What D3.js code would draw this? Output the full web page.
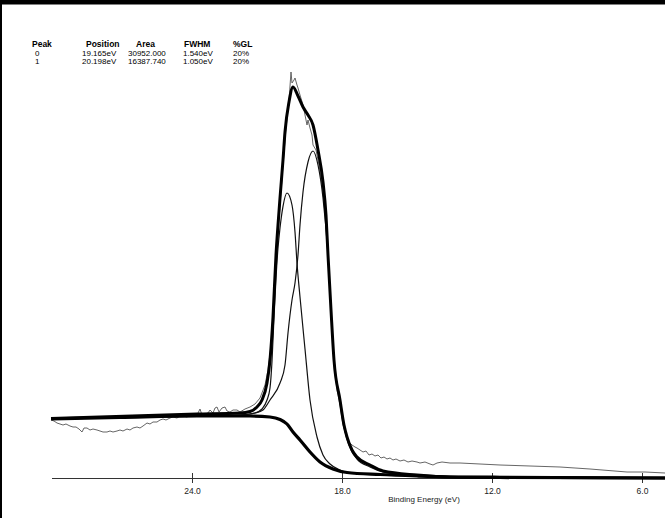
<!DOCTYPE html>
<html>
<head>
<meta charset="utf-8">
<script src="https://cdn.jsdelivr.net/npm/d3@7"></script>
<style>
  body { margin: 0; background: #fff; }
  svg { display: block; font-family: 'Liberation Sans', Arial, sans-serif; }
  .hdr { font-weight: bold; font-size: 8.5px; }
  .cell { font-size: 8px; }
  .axis text { font-size: 8.5px; fill: #222; }
</style>
</head>
<body>
<svg id="chart" width="665" height="518"></svg>
<script>
// Fit table
const peakIds = ['0', '1'];
const peakPositions = ['19.165eV', '20.198eV'];
const peakAreas = ['30952.000', '16387.740'];
const peakFwhms = ['1.540eV', '1.050eV'];
const peakGls = ['20%', '20%'];

const xTicks = [24, 18, 12, 6];

// Measured spectrum [binding energy eV, counts]
const raw = [
  [29.64, 3480], [29.52, 3420], [29.40, 3300], [29.28, 3240], [29.16, 3180], [29.04, 3240],
  [28.88, 3120], [28.76, 3060], [28.64, 3060], [28.52, 2940], [28.40, 2760], [28.32, 3000],
  [28.20, 3000], [28.08, 2880], [27.96, 2940], [27.80, 2880], [27.68, 2820], [27.56, 2760],
  [27.40, 2760], [27.28, 2820], [27.16, 2760], [27.00, 2820], [26.88, 2880], [26.76, 2820],
  [26.60, 2940], [26.48, 2880], [26.36, 3000], [26.20, 3060], [26.08, 3000], [25.96, 3120],
  [25.80, 3300], [25.68, 3240], [25.56, 3360], [25.40, 3360], [25.28, 3480], [25.16, 3540],
  [25.04, 3480], [24.88, 3600], [24.76, 3660], [24.60, 3600], [24.48, 3720], [24.36, 3720],
  [24.20, 3660], [24.08, 3780], [23.96, 3720], [23.80, 3780], [23.68, 4140], [23.60, 3780],
  [23.48, 3840], [23.36, 3900], [23.28, 4080], [23.16, 3900], [23.08, 4200], [23.00, 4260],
  [22.92, 3960], [22.80, 4200], [22.68, 4260], [22.60, 4020], [22.48, 3960], [22.36, 4080],
  [22.20, 4080], [22.08, 3960], [21.88, 4140], [21.68, 4260], [21.48, 4440], [21.28, 4800],
  [21.08, 5580], [20.96, 6480], [20.84, 7980], [20.72, 10680], [20.60, 13680], [20.48, 16380],
  [20.36, 18780], [20.24, 21000], [20.12, 22680], [20.04, 24360], [20.00, 23700], [19.92, 23880],
  [19.88, 24000], [19.80, 23580], [19.76, 23400], [19.68, 22980], [19.56, 22380], [19.48, 21780],
  [19.40, 21180], [19.36, 21480], [19.28, 21000], [19.20, 20580], [19.16, 19980], [19.04, 19680],
  [18.92, 18780], [18.80, 17580], [18.68, 16080], [18.56, 13380], [18.44, 10080], [18.32, 7200],
  [18.20, 5280], [18.08, 4380], [17.96, 3180], [17.84, 2580], [17.72, 2160], [17.60, 1980],
  [17.48, 1860], [17.40, 1800], [17.28, 1680], [17.16, 1560], [17.04, 1620], [16.92, 1380],
  [16.80, 1440], [16.68, 1320], [16.56, 1380], [16.44, 1200], [16.32, 1260], [16.20, 1140],
  [16.08, 1200], [15.96, 1080], [15.84, 1140], [15.68, 1020], [15.52, 1080], [15.36, 960],
  [15.20, 1020], [15.00, 960], [14.88, 900], [14.68, 960], [14.48, 840], [14.36, 780],
  [14.20, 900], [14.00, 960], [13.68, 900], [13.28, 900], [12.48, 840], [11.68, 780],
  [10.48, 720], [9.28, 660], [8.08, 540], [6.60, 360], [5.88, 360], [5.08, 300]
];

// Shirley background
const background = [
  [29.64, 3540], [26.88, 3630], [23.80, 3720], [21.68, 3720], [20.88, 3660], [20.48, 3510],
  [20.20, 3240], [19.96, 2760], [19.68, 2280], [19.28, 1560], [18.88, 960], [18.36, 540],
  [17.80, 330], [16.48, 210], [15.00, 120], [13.68, 60], [11.68, 30], [5.08, 0]
];

// Fit envelope
const envelope = [
  [29.64, 3570], [23.80, 3840], [22.08, 3900], [21.68, 3990], [21.40, 4260], [21.20, 4680],
  [21.00, 5700], [20.88, 7080], [20.76, 9660], [20.64, 13380], [20.56, 15180], [20.48, 16800],
  [20.36, 19080], [20.28, 20760], [20.12, 22560], [19.96, 23460], [19.76, 22920], [19.56, 22260],
  [19.36, 21780], [19.16, 21180], [18.96, 19680], [18.76, 17760], [18.64, 15780], [18.56, 13380],
  [18.44, 10080], [18.32, 7080], [18.08, 4680], [17.92, 3180], [17.80, 2460], [17.60, 1680],
  [17.40, 1260], [16.88, 780], [16.36, 420], [15.00, 180], [13.68, 60], [5.08, 0]
];

// Component peak 0 (19.165 eV)
const peak0 = [
  [29.64, 3540], [23.80, 3720], [22.08, 3780], [21.48, 3900], [21.16, 4080], [20.88, 4680],
  [20.48, 5700], [20.28, 6780], [20.16, 8700], [20.00, 10680], [19.88, 11700], [19.76, 13380],
  [19.68, 15180], [19.56, 17160], [19.36, 18960], [19.16, 19620], [18.96, 18780], [18.76, 16800],
  [18.56, 13380], [18.44, 10080], [18.32, 7080], [18.08, 4560], [17.92, 3060], [17.80, 2340],
  [17.60, 1560], [17.40, 1140], [16.88, 660], [16.36, 360], [15.00, 120], [13.68, 30], [5.08, 0]
];

// Component peak 1 (20.198 eV)
const peak1 = [
  [29.64, 3540], [23.80, 3720], [22.08, 3780], [21.48, 3900], [21.20, 4140], [21.00, 4680],
  [20.88, 5400], [20.80, 7000], [20.72, 9660], [20.64, 12000], [20.56, 13800], [20.48, 15000],
  [20.36, 16300], [20.20, 17100], [20.00, 16380], [19.88, 14760], [19.80, 12900], [19.68, 10860],
  [19.48, 7740], [19.28, 4680], [19.00, 2460], [18.76, 1380], [18.48, 840], [18.08, 480],
  [17.80, 330], [16.48, 210], [15.00, 120], [13.68, 60], [5.08, 0]
];

const svg = d3.select('#chart');
const W = 665, H = 518;

// window frame: heavy top edge, thin left edge
svg.append('rect').attr('x', 0).attr('y', 0).attr('width', W).attr('height', 4.5).attr('fill', '#000');
svg.append('rect').attr('x', 0).attr('y', 0).attr('width', 2).attr('height', H).attr('fill', '#000');

const xScale = d3.scaleLinear().domain([29.64, 5.08]).range([51, 665]);
const yScale = d3.scaleLinear().domain([0, 24000]).range([478, 78]);

// Peak table
const cols = [
  { title: 'Peak', x: 32, vals: peakIds, dx: 3 },
  { title: 'Position', x: 86, vals: peakPositions, dx: -4 },
  { title: 'Area', x: 136, vals: peakAreas, dx: -8 },
  { title: 'FWHM', x: 184, vals: peakFwhms, dx: -1 },
  { title: '%GL', x: 233, vals: peakGls, dx: 0 },
];
const table = svg.append('g').attr('class', 'peak-table');
cols.forEach((c) => {
  table.append('text').attr('class', 'hdr').attr('x', c.x).attr('y', 46.5).text(c.title);
  c.vals.forEach((v, i) => {
    table.append('text').attr('class', 'cell')
      .attr('x', c.x + c.dx).attr('y', 55.5 + i * 8.5).text(v);
  });
});

// x-axis
const xAxis = d3.axisBottom(xScale)
  .tickValues(xTicks)
  .tickFormat(d3.format('.1f'))
  .tickSizeInner(5)
  .tickSizeOuter(0)
  .tickPadding(5);
const xAxisG = svg.append('g').attr('class', 'axis x-axis')
  .attr('transform', `translate(0,${yScale(0)})`)
  .call(xAxis);
xAxisG.select('.domain').attr('stroke', '#333').attr('d', `M${xScale.range()[0] + 1},0.5H${W}`);
xAxisG.selectAll('.tick line').attr('y1', -5).attr('y2', 5).attr('stroke', '#333');
xAxisG.append('text')
  .attr('x', 424).attr('y', 24)
  .attr('text-anchor', 'middle')
  .attr('fill', '#222')
  .style('font-size', '8px')
  .text('Binding Energy (eV)');

const plot = svg.append('g').attr('class', 'plot');
const smooth = d3.line().x((d) => xScale(d[0])).y((d) => yScale(d[1])).curve(d3.curveMonotoneX);
const jagged = d3.line().x((d) => xScale(d[0])).y((d) => yScale(d[1]));

plot.append('path').datum(raw).attr('d', jagged)
  .attr('fill', 'none').attr('stroke', '#555').attr('stroke-width', 0.9);
[peak0, peak1].forEach((p) => {
  plot.append('path').datum(p).attr('d', smooth)
    .attr('fill', 'none').attr('stroke', '#111').attr('stroke-width', 1.2);
});
plot.append('path').datum(background).attr('d', smooth)
  .attr('fill', 'none').attr('stroke', '#000').attr('stroke-width', 3.2);
plot.append('path').datum(envelope).attr('d', smooth)
  .attr('fill', 'none').attr('stroke', '#000').attr('stroke-width', 3);
</script>
</body>
</html>
